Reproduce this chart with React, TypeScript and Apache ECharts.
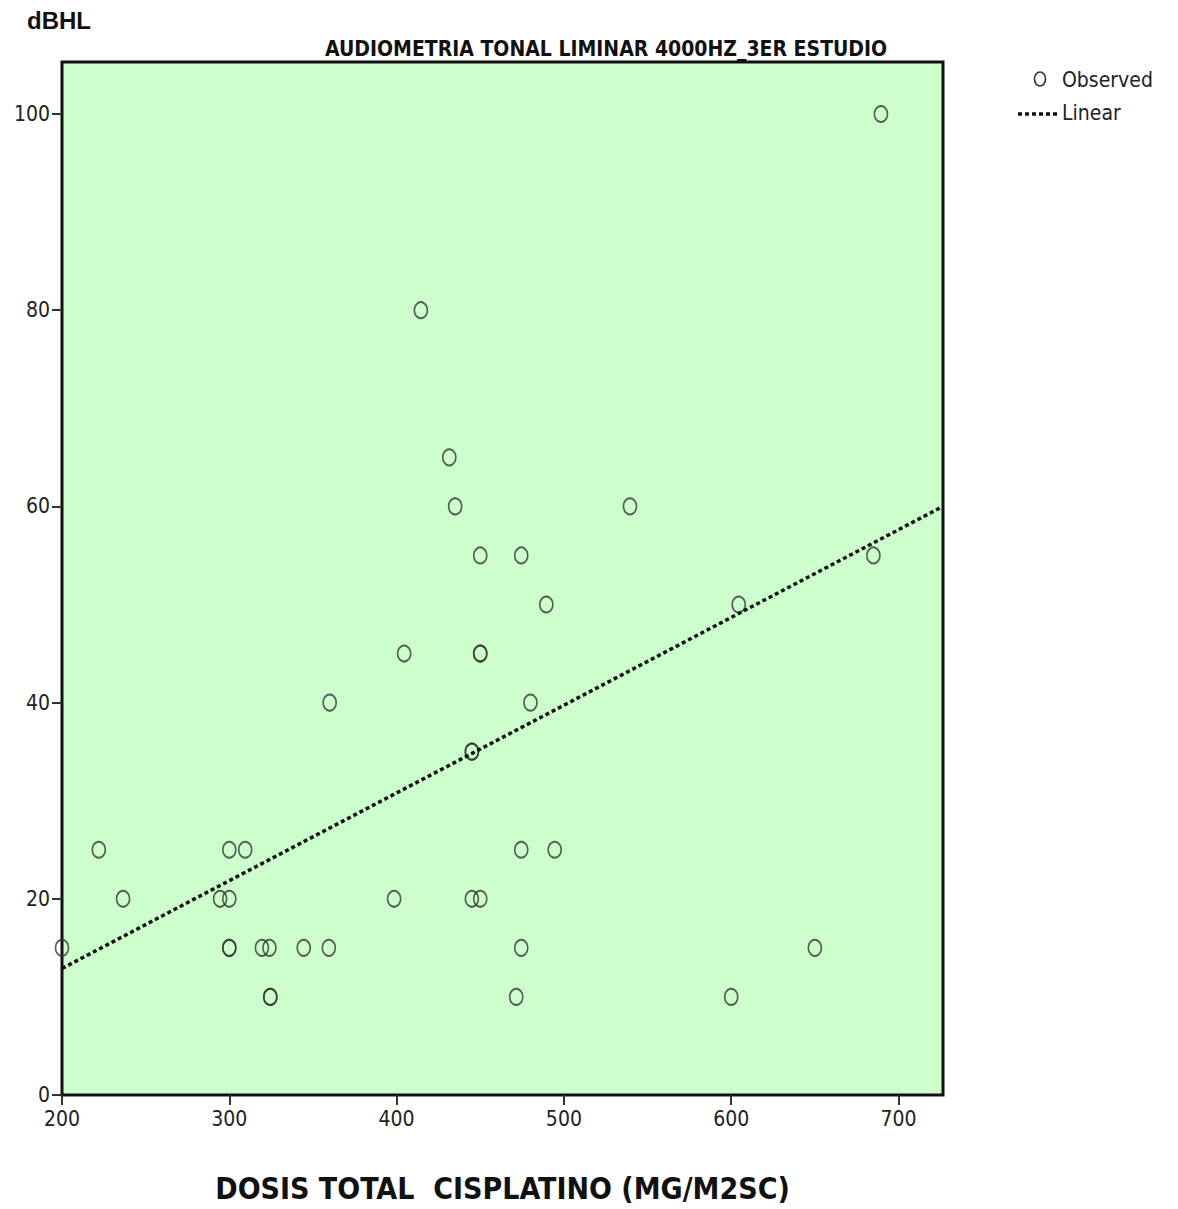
import React, { useEffect, useRef } from "react";
import * as echarts from "echarts";

const observedX = [200, 222, 236.5, 294.5, 300, 300, 309.5, 300, 300, 319.5, 324, 324.5, 324.5, 344.5, 359.5, 360, 398.5, 404.5, 414.5, 431.5, 435, 450, 445, 445, 445, 450, 450, 450, 474.5, 489.5, 480, 474.5, 494.5, 474.5, 471.5, 539.5, 604.5, 600, 650, 685, 689.5];
const observedY = [15, 25, 20, 20, 20, 25, 25, 15, 15, 15, 15, 10, 10, 15, 15, 40, 20, 45, 80, 65, 60, 55, 35, 35, 20, 20, 45, 45, 55, 50, 40, 25, 25, 15, 10, 60, 50, 10, 15, 55, 100];
const linearX = [200, 726.6];
const linearY = [12.9, 60.0];
const xTicks = [200, 300, 400, 500, 600, 700];
const yTicks = [0, 20, 40, 60, 80, 100];

const NARROW = "'Liberation Sans Narrow', 'DejaVu Sans Condensed', 'Liberation Sans', sans-serif";

export default function App() {
  const ref = useRef<HTMLDivElement>(null);
  useEffect(() => {
    document.body.style.margin = "0";
    const chart = echarts.init(ref.current!, null, { renderer: "svg" });
    chart.setOption({
      animation: false,
      backgroundColor: "#ffffff",
      grid: {
        left: 62,
        top: 62,
        width: 881,
        height: 1033,
        show: true,
        backgroundColor: "#ccffcc",
        borderColor: "#111",
        borderWidth: 3,
      },
      title: {
        text: "AUDIOMETRIA TONAL LIMINAR 4000HZ_3ER ESTUDIO",
        left: 320,
        top: 33,
        textStyle: { fontFamily: NARROW, fontWeight: "bold", fontSize: 21, color: "#111" },
      },
      graphic: [
        {
          type: "text",
          left: 27,
          top: 8,
          style: { text: "dBHL", fontFamily: "'Liberation Sans', Arial, sans-serif", fontWeight: "bold", fontSize: 24, fill: "#111" },
        },
        {
          type: "ellipse",
          shape: { cx: 1040, cy: 79, rx: 5.5, ry: 7 },
          style: { fill: "none", stroke: "#333", lineWidth: 1.6 },
        },
        {
          type: "text",
          left: 1062,
          top: 69,
          style: { text: "Observed", fontFamily: NARROW, fontSize: 21, fill: "#222" },
        },
        {
          type: "line",
          shape: { x1: 1018, y1: 114, x2: 1057, y2: 114 },
          style: { stroke: "#111", lineWidth: 3.5, lineDash: [4, 3] },
        },
        {
          type: "text",
          left: 1062,
          top: 102,
          style: { text: "Linear", fontFamily: NARROW, fontSize: 21, fill: "#222" },
        },
      ],
      xAxis: {
        type: "value",
        min: 200,
        max: 726.6,
        interval: 100,
        splitLine: { show: false },
        axisLine: { show: false },
        axisTick: { show: true, length: 10, lineStyle: { color: "#333", width: 2 } },
        axisLabel: {
          fontFamily: NARROW,
          fontSize: 21,
          color: "#222",
          margin: 13,
          showMaxLabel: false,
          formatter: (v: number) => (xTicks.includes(v) ? String(v) : ""),
        },
        name: "DOSIS TOTAL  CISPLATINO (MG/M2SC)",
        nameLocation: "middle",
        nameGap: 78,
        nameTextStyle: { fontFamily: NARROW, fontWeight: "bold", fontSize: 30, color: "#111" },
      },
      yAxis: {
        type: "value",
        min: 0,
        max: 105.3,
        interval: 20,
        splitLine: { show: false },
        axisLine: { show: false },
        axisTick: { show: true, length: 10, lineStyle: { color: "#333", width: 2 } },
        axisLabel: {
          fontFamily: NARROW,
          fontSize: 21,
          color: "#222",
          margin: 12,
          showMaxLabel: false,
          formatter: (v: number) => (yTicks.includes(v) ? String(v) : ""),
        },
      },
      series: [
        {
          name: "Observed",
          type: "scatter",
          symbol: "circle",
          symbolSize: [13, 16],
          itemStyle: { color: "transparent", borderColor: "#333", borderWidth: 1.8 },
          data: observedX.map((x, i) => [x, observedY[i]]),
          z: 3,
        },
        {
          name: "Linear",
          type: "line",
          symbol: "none",
          lineStyle: { color: "#111", width: 3.5, type: [4, 3] },
          itemStyle: { color: "#111" },
          data: linearX.map((x, i) => [x, linearY[i]]),
          z: 4,
        },
      ],
    });
    return () => chart.dispose();
  }, []);
  return <div ref={ref} style={{ width: 1178, height: 1209 }} />;
}
